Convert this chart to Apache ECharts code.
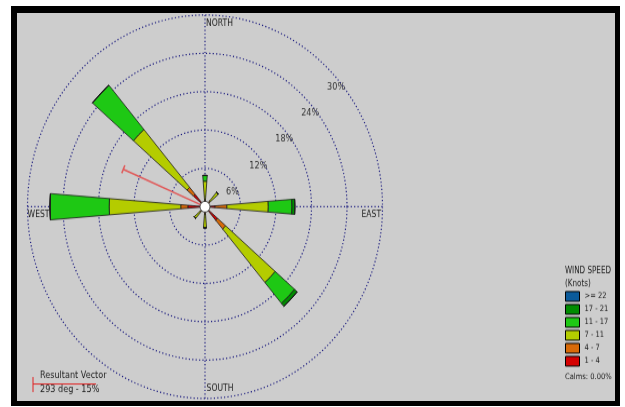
<!DOCTYPE html>
<html lang="en">
<head>
    <meta charset="UTF-8">
    <title>Wind Rose</title>
    <script src="https://cdn.jsdelivr.net/npm/echarts@6/dist/echarts.min.js"></script>
    <style>
        body { margin: 0; background: #fff; }
        #frame { position: absolute; left: 11px; top: 6px; width: 598px; height: 388px;
                 border-style: solid; border-color: #000; border-width: 7px 5px 5px 6px; background: #cdcdcd; }
        /* the source picture is stretched vertically, so the chart is too */
        #main { position: absolute; left: 0; top: 0; width: 625px; height: 377px;
                transform: scaleY(1.08); transform-origin: 0 0; }
    </style>
</head>
<body>
<div id="frame"></div>
<div id="main"></div>
<script type="text/javascript">
    // data (percent of time, per direction and speed bin)
    var directions = ['N', 'NE', 'E', 'SE', 'S', 'SW', 'W', 'NW'];
    var speedBins = ['1 - 4', '4 - 7', '7 - 11', '11 - 17', '17 - 21', '>= 22'];
    var binColors = ['#d40000', '#d86a08', '#b4cc00', '#1ec814', '#008c00', '#0a5a9a'];
    var pct1to4   = [0.6, 0.8, 1.7, 2.8, 0.8, 0.8, 2.9, 2.6];
    var pct4to7   = [0.5, 0.4, 2.0, 1.8, 0.4, 0.3, 1.2, 1.4];
    var pct7to11  = [2.9, 1.8, 7.0, 11.0, 2.1, 1.3, 12.1, 11.9];
    var pct11to17 = [0.9, 0, 4.0, 4.3, 0, 0, 10.0, 9.1];
    var pct17to21 = [0, 0, 0.5, 0.6, 0, 0, 0, 0];
    var pct22up   = [0, 0, 0, 0, 0, 0, 0, 0];
    var ringMax = 30, ringStep = 6;
    var compassNames = {0: 'NORTH', 90: 'EAST', 180: 'SOUTH', 270: 'WEST'};
    var resultantDeg = 293, resultantPct = 15;
    var calmsPct = '0.00';

    var binData = [pct1to4, pct4to7, pct7to11, pct11to17, pct17to21, pct22up];

    var S = 1.08;                       // vertical stretch
    var cx = 205, cy = 206.7 / S, R = 177.5;
    var gridColor = '#1e1e80';
    var font = '"Liberation Sans Narrow", "Arial Narrow", "DejaVu Sans Condensed", sans-serif';
    var txt = '#222';

    var myChart = echarts.init(document.getElementById('main'));

    var series = speedBins.map(function (name, i) {
        return {
            type: 'bar', name: name, coordinateSystem: 'polar', polarIndex: 0,
            stack: 'wind', data: binData[i], barWidth: '20%',
            itemStyle: {color: binColors[i], borderColor: '#1a1a1a', borderWidth: 0.8}
        };
    });
    series.push({
        type: 'line', coordinateSystem: 'polar', polarIndex: 1, z: 5,
        symbol: 'rect', symbolSize: [8, 1.5], symbolRotate: 360 - resultantDeg,
        data: [{value: [0, resultantDeg], symbol: 'none'}, [resultantPct, resultantDeg]],
        lineStyle: {color: '#e05a5a', width: 1.5},
        itemStyle: {color: '#e05a5a'}
    });

    var noAxis = {axisLine: {show: false}, axisTick: {show: false}, axisLabel: {show: false}, splitLine: {show: false}};
    var dots = {color: gridColor, width: 1.2, type: [1.2, 2.2]};

    myChart.setOption({
        animation: false,
        textStyle: {fontFamily: font},
        title: [
            {text: 'WIND SPEED\n(Knots)', left: 565, top: 265 / S, padding: 0,
                textStyle: {fontSize: 8, fontWeight: 'normal', color: txt, lineHeight: 12, fontFamily: font}},
            {text: 'Calms: ' + calmsPct + '%', left: 565, top: 373 / S, padding: 0,
                textStyle: {fontSize: 7.5, fontWeight: 'normal', color: txt, fontFamily: font}}
        ],
        legend: {
            data: speedBins.slice().reverse(),
            orient: 'vertical', left: 565, top: 291 / S, padding: 0,
            itemWidth: 14, itemHeight: 9, itemGap: 2, icon: 'rect', selectedMode: false,
            itemStyle: {borderColor: '#000', borderWidth: 1},
            textStyle: {fontSize: 7.5, lineHeight: 9, color: txt, fontFamily: font}
        },
        polar: [
            {center: [cx, cy], radius: R},
            {center: [cx, cy], radius: R},
            {center: [cx, cy], radius: R}
        ],
        angleAxis: [
            Object.assign({polarIndex: 0, type: 'category', data: directions, startAngle: 112.5, clockwise: true}, noAxis),
            {
                polarIndex: 1, type: 'value', min: 0, max: 360, interval: 90, startAngle: 90, clockwise: true,
                axisLine: {show: false}, axisTick: {show: false},
                splitLine: {show: true, lineStyle: dots},
                axisLabel: {
                    margin: -22, color: txt, fontSize: 8.5, fontFamily: font,
                    formatter: function (v) {
                        var n = compassNames[v];
                        return n ? '{' + n + '|' + n + '}' : '';
                    },
                    rich: {
                        NORTH: {padding: [0, 0, 10, 29], fontSize: 8.5, fontFamily: font},
                        SOUTH: {padding: [8, 0, 0, 30], fontSize: 8.5, fontFamily: font},
                        EAST: {padding: [15, 0, 0, 1], fontSize: 8.5, fontFamily: font},
                        WEST: {padding: [15, 0, 0, 0], fontSize: 8.5, fontFamily: font}
                    }
                }
            },
            Object.assign({polarIndex: 2, type: 'value', min: 0, max: 360, startAngle: 43.1}, noAxis)
        ],
        radiusAxis: [
            Object.assign({polarIndex: 0, min: 0, max: ringMax}, noAxis),
            {
                polarIndex: 1, min: 0, max: ringMax, interval: ringStep,
                axisLine: {show: false}, axisTick: {show: false}, axisLabel: {show: false},
                splitLine: {show: true, lineStyle: dots}
            },
            {
                polarIndex: 2, min: 0, max: ringMax, interval: ringStep,
                axisLine: {show: false}, axisTick: {show: false}, splitLine: {show: false},
                axisLabel: {
                    margin: 0, align: 'center', verticalAlign: 'middle',
                    formatter: function (v) { return v ? '{r|' + v + '%}' : ''; },
                    rich: {r: {padding: [21, 0, 0, 3], fontSize: 9, color: '#333', fontFamily: font}}
                }
            }
        ],
        graphic: [
            {type: 'circle', z: 100, shape: {cx: cx, cy: cy, r: 5},
                style: {fill: '#fff', stroke: '#222', lineWidth: 0.8}},
            {type: 'line', shape: {x1: 33, y1: 384 / S, x2: 96, y2: 384 / S},
                style: {stroke: '#e02020', lineWidth: 1}},
            {type: 'line', shape: {x1: 33, y1: 377 / S, x2: 33, y2: 392 / S},
                style: {stroke: '#e02020', lineWidth: 1}},
            {type: 'text', x: 40, y: 376 / S,
                style: {text: 'Resultant Vector', fill: txt, font: '9px ' + font, verticalAlign: 'middle'}},
            {type: 'text', x: 40, y: 390 / S,
                style: {text: resultantDeg + ' deg - ' + resultantPct + '%', fill: txt, font: '9px ' + font, verticalAlign: 'middle'}}
        ],
        series: series
    });
</script>
</body>
</html>
